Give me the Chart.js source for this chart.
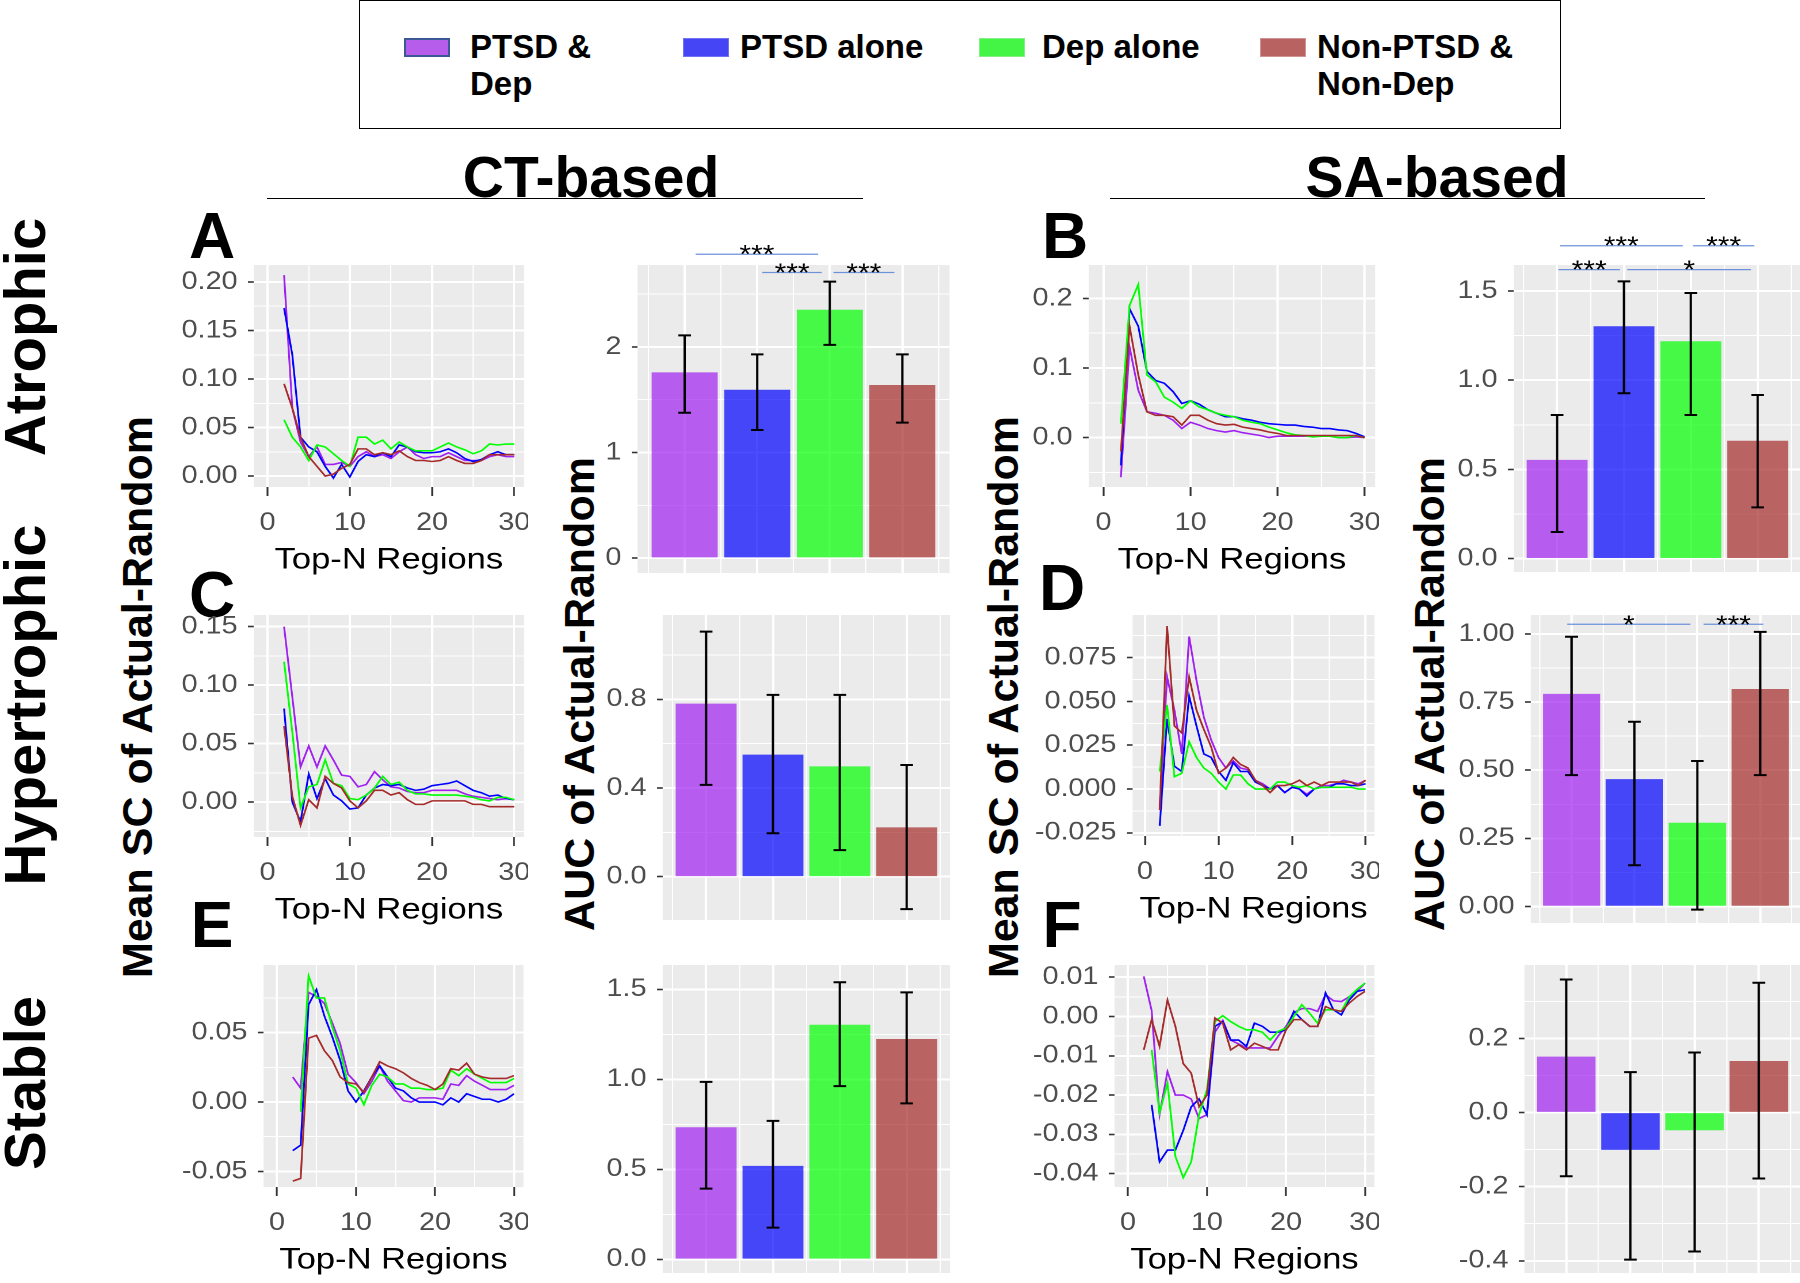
<!DOCTYPE html>
<html lang="en">
<head>
<meta charset="UTF-8">
<title>Mean SC / AUC of Actual-Random</title>
<script src="https://cdn.jsdelivr.net/npm/chart.js"></script>
<style>
  body { margin: 0; background: #ffffff; }
  #page {
    position: relative; width: 1800px; height: 1283px; overflow: hidden; background: #fff;
    font-family: 'Liberation Sans', Arial, sans-serif; color: #000;
  }
  .panel { position: absolute; transform-origin: 0 0; }
  .panel canvas { display: block; }
  .lbl { position: absolute; white-space: nowrap; font-weight: bold; line-height: 1; transform: translate(-50%, -50%); }
  .rot { transform: translate(-50%, -50%) rotate(-90deg); }
  .rule { position: absolute; height: 0; border-top: 1.5px solid #000; }
  #legend { position: absolute; left: 359px; top: 0; width: 1202px; height: 129px; box-sizing: border-box; border: 1.5px solid #000; }
  .key { position: absolute; top: 38px; width: 46px; height: 19px; box-sizing: border-box; }
  .keytxt { position: absolute; top: 28px; font-weight: bold; font-size: 33px; line-height: 37px; white-space: nowrap; }
</style>
</head>
<body>
<div id="page">
  <div id="legend"></div>
  <div class="key" style="left:404px;background:#B65DEC;border:2px solid #3A5894"></div>
  <div class="keytxt" style="left:470px">PTSD &amp;<br>Dep</div>
  <div class="key" style="left:683px;background:#4545F6;border:1px solid #7373F2"></div>
  <div class="keytxt" style="left:740px">PTSD alone</div>
  <div class="key" style="left:979px;background:#45F545;border:1px solid #86EE86"></div>
  <div class="keytxt" style="left:1042px">Dep alone</div>
  <div class="key" style="left:1260px;background:#B86262;border:1px solid #D09494"></div>
  <div class="keytxt" style="left:1317px">Non-PTSD &amp;<br>Non-Dep</div>

  <div class="lbl" style="left:591px;top:177px;font-size:57px">CT-based</div>
  <div class="rule" style="left:267px;top:198px;width:596px"></div>
  <div class="lbl" style="left:1437px;top:177px;font-size:57px">SA-based</div>
  <div class="rule" style="left:1110px;top:198px;width:595px"></div>

  <div class="lbl" style="left:212px;top:236px;font-size:64px">A</div>
  <div class="lbl" style="left:1065px;top:236px;font-size:64px">B</div>
  <div class="lbl" style="left:212px;top:595px;font-size:64px">C</div>
  <div class="lbl" style="left:1062px;top:588px;font-size:64px">D</div>
  <div class="lbl" style="left:212px;top:925px;font-size:64px">E</div>
  <div class="lbl" style="left:1062px;top:925px;font-size:64px">F</div>

  <div class="lbl rot" style="left:25px;top:337px;font-size:58px">Atrophic</div>
  <div class="lbl rot" style="left:25px;top:705px;font-size:58px">Hypertrophic</div>
  <div class="lbl rot" style="left:25px;top:1083px;font-size:58px">Stable</div>

  <div class="lbl rot" style="left:137px;top:697px;font-size:43px">Mean SC of Actual-Random</div>
  <div class="lbl rot" style="left:579px;top:694px;font-size:43px">AUC of Actual-Random</div>
  <div class="lbl rot" style="left:1003px;top:697px;font-size:43px">Mean SC of Actual-Random</div>
  <div class="lbl rot" style="left:1429px;top:694px;font-size:43px">AUC of Actual-Random</div>
</div>
<script>
  const FONT = "'Liberation Sans', Arial, sans-serif";
  // the sub-plots of the source figure are stretched sideways by about this much
  const SX = 1.15;
  const Y_AXIS_W = 90;

  const groups = ['PTSD & Dep', 'PTSD alone', 'Dep alone', 'Non-PTSD & Non-Dep'];
  const lineColors = ['#A020F0', '#0000FF', '#00FF00', '#A52A2A'];
  const barColors = ['rgba(160,32,240,0.7)', 'rgba(0,0,255,0.7)', 'rgba(0,255,0,0.7)', 'rgba(165,42,42,0.7)'];

  const topN = [2, 3, 4, 5, 6, 7, 8, 9, 10, 11, 12, 13, 14, 15, 16, 17, 18, 19, 20, 21, 22, 23, 24, 25, 26, 27, 28, 29, 30];

  // mean SC, one array per group (PD = PTSD & Dep, P = PTSD alone, D = Dep alone, N = neither)
  // A: CT atrophic
  const aPD = [0.207, 0.070, 0.035, 0.020, 0.030, 0.012, 0.012, 0.014, 0.010, 0.020, 0.025, 0.020, 0.022, 0.018, 0.025, 0.030, 0.022, 0.018, 0.020, 0.020, 0.024, 0.020, 0.016, 0.016, 0.016, 0.020, 0.022, 0.020, 0.020];
  const aP = [0.173, 0.125, 0.040, 0.030, 0.025, 0.010, -0.002, 0.012, -0.001, 0.015, 0.022, 0.020, 0.024, 0.020, 0.032, 0.030, 0.025, 0.024, 0.024, 0.025, 0.028, 0.024, 0.018, 0.015, 0.017, 0.022, 0.025, 0.022, 0.022];
  const aD = [0.058, 0.040, 0.030, 0.016, 0.032, 0.030, 0.023, 0.016, 0.010, 0.040, 0.040, 0.033, 0.037, 0.028, 0.035, 0.030, 0.026, 0.026, 0.026, 0.030, 0.034, 0.030, 0.027, 0.023, 0.026, 0.033, 0.032, 0.033, 0.033];
  const aN = [0.095, 0.070, 0.040, 0.020, 0.010, 0.000, 0.002, 0.008, 0.012, 0.028, 0.028, 0.022, 0.024, 0.022, 0.026, 0.020, 0.016, 0.016, 0.015, 0.016, 0.020, 0.016, 0.013, 0.013, 0.016, 0.022, 0.022, 0.022, 0.022];
  // B: SA atrophic
  const bPD = [-0.057, 0.130, 0.068, 0.037, 0.035, 0.032, 0.025, 0.013, 0.022, 0.018, 0.013, 0.010, 0.008, 0.010, 0.007, 0.005, 0.003, 0.000, 0.002, 0.002, 0.002, 0.002, 0.002, 0.002, 0.002, 0.000, 0.000, 0.001, 0.000];
  const bP = [-0.040, 0.185, 0.160, 0.095, 0.082, 0.078, 0.066, 0.049, 0.053, 0.048, 0.040, 0.035, 0.030, 0.030, 0.027, 0.025, 0.022, 0.020, 0.019, 0.018, 0.018, 0.016, 0.015, 0.013, 0.013, 0.011, 0.010, 0.006, 0.001];
  const bD = [0.020, 0.190, 0.220, 0.090, 0.080, 0.058, 0.051, 0.042, 0.053, 0.044, 0.040, 0.035, 0.032, 0.030, 0.025, 0.022, 0.020, 0.015, 0.011, 0.007, 0.004, 0.003, 0.001, 0.002, 0.002, 0.000, 0.000, 0.003, 0.000];
  const bN = [-0.020, 0.160, 0.090, 0.037, 0.032, 0.032, 0.030, 0.018, 0.032, 0.032, 0.025, 0.020, 0.018, 0.019, 0.015, 0.013, 0.011, 0.008, 0.006, 0.003, 0.003, 0.003, 0.003, 0.003, 0.003, 0.003, 0.003, 0.003, 0.000];
  // C: CT hypertrophic
  const cPD = [0.150, 0.090, 0.030, 0.048, 0.030, 0.048, 0.036, 0.023, 0.022, 0.013, 0.015, 0.026, 0.019, 0.013, 0.012, 0.009, 0.008, 0.008, 0.010, 0.010, 0.010, 0.010, 0.007, 0.005, 0.004, 0.003, 0.002, 0.003, 0.002];
  const cP = [0.080, 0.000, -0.017, 0.024, 0.003, 0.020, 0.006, 0.001, -0.006, -0.005, 0.006, 0.012, 0.015, 0.014, 0.015, 0.012, 0.010, 0.011, 0.014, 0.015, 0.016, 0.018, 0.014, 0.010, 0.008, 0.005, 0.006, 0.003, 0.002];
  const cD = [0.120, 0.060, -0.005, 0.013, 0.015, 0.036, 0.016, 0.014, 0.003, 0.002, 0.006, 0.012, 0.022, 0.015, 0.017, 0.010, 0.007, 0.007, 0.006, 0.006, 0.006, 0.006, 0.005, 0.004, 0.002, 0.001, 0.004, 0.004, 0.002];
  const cN = [0.065, 0.005, -0.020, 0.002, -0.005, 0.022, 0.016, 0.012, 0.001, -0.005, 0.001, 0.010, 0.010, 0.006, 0.008, 0.002, -0.002, -0.002, 0.001, 0.001, 0.001, 0.001, 0.001, -0.002, -0.002, -0.004, -0.004, -0.004, -0.004];
  // D: SA hypertrophic
  const dPD = [-0.010, 0.064, 0.045, 0.020, 0.087, 0.062, 0.041, 0.028, 0.018, 0.012, 0.016, 0.012, 0.011, 0.005, 0.003, 0.000, 0.002, -0.002, 0.001, 0.000, -0.003, 0.000, 0.002, 0.002, 0.003, 0.005, 0.004, 0.003, 0.005];
  const dP = [-0.021, 0.040, 0.013, 0.010, 0.053, 0.036, 0.020, 0.018, 0.010, 0.005, 0.015, 0.010, 0.010, 0.004, 0.002, 0.000, 0.002, -0.002, 0.001, 0.000, -0.004, 0.000, 0.001, 0.001, 0.003, 0.003, 0.002, 0.002, 0.003];
  const dD = [0.010, 0.048, 0.007, 0.009, 0.027, 0.018, 0.012, 0.009, 0.004, 0.000, 0.008, 0.008, 0.003, 0.000, 0.000, 0.000, 0.004, 0.004, 0.002, 0.001, 0.002, 0.000, 0.001, 0.001, 0.001, 0.001, 0.001, 0.000, 0.000];
  const dN = [-0.012, 0.093, 0.036, 0.032, 0.064, 0.045, 0.034, 0.024, 0.009, 0.012, 0.018, 0.014, 0.012, 0.005, 0.002, -0.002, 0.002, 0.002, 0.003, 0.005, 0.002, 0.004, 0.002, 0.004, 0.004, 0.004, 0.004, 0.002, 0.005];
  // E: CT stable
  const ePD = [0.018, 0.010, 0.079, 0.076, 0.071, 0.057, 0.042, 0.020, 0.014, 0.006, 0.015, 0.026, 0.015, 0.008, 0.001, 0.000, 0.003, 0.003, 0.003, 0.002, 0.013, 0.012, 0.019, 0.015, 0.012, 0.009, 0.009, 0.009, 0.012];
  const eP = [-0.035, -0.031, 0.070, 0.081, 0.062, 0.047, 0.030, 0.008, 0.000, 0.008, 0.018, 0.026, 0.018, 0.010, 0.008, 0.003, 0.000, 0.000, 0.000, -0.002, 0.003, 0.000, 0.006, 0.004, 0.002, 0.002, 0.000, 0.002, 0.006];
  const eD = [null, -0.007, 0.091, 0.075, 0.075, 0.054, 0.037, 0.013, 0.010, -0.002, 0.012, 0.020, 0.018, 0.013, 0.013, 0.010, 0.010, 0.009, 0.009, 0.010, 0.023, 0.019, 0.024, 0.020, 0.017, 0.014, 0.014, 0.014, 0.017];
  const eN = [-0.057, -0.055, 0.046, 0.048, 0.037, 0.030, 0.018, 0.014, 0.013, 0.007, 0.018, 0.029, 0.026, 0.024, 0.021, 0.017, 0.014, 0.012, 0.009, 0.013, 0.024, 0.023, 0.028, 0.020, 0.018, 0.017, 0.017, 0.017, 0.019];
  // F: SA stable
  const fPD = [0.0102, 0.0015, -0.025, -0.014, -0.020, -0.020, -0.021, -0.026, -0.025, -0.004, -0.001, -0.006, -0.007, -0.008, -0.008, -0.008, -0.008, -0.005, -0.0025, 0.001, 0.002, 0.002, 0.0013, 0.0055, 0.004, 0.0038, 0.005, 0.0064, 0.0085];
  const fP = [null, -0.0225, -0.037, -0.034, -0.034, -0.029, -0.023, -0.021, -0.025, -0.0025, -0.0013, -0.006, -0.006, -0.0076, -0.0017, -0.0025, -0.004, -0.004, -0.0034, 0.0013, -0.0008, -0.0025, -0.0025, 0.006, 0.0017, 0.0004, 0.0042, 0.0064, 0.0068];
  const fD = [null, -0.0085, -0.0245, -0.017, -0.0356, -0.041, -0.037, -0.025, -0.0186, -0.0013, 0.0002, -0.0013, -0.0025, -0.0034, -0.0034, -0.004, -0.006, -0.0038, -0.003, 0.0, 0.003, 0.0008, -0.0017, 0.0017, 0.0017, 0.0013, 0.005, 0.0069, 0.0085];
  const fN = [-0.0085, -0.0008, -0.0076, 0.0042, -0.0025, -0.012, -0.0144, -0.023, -0.020, -0.0004, -0.0017, -0.0085, -0.0072, -0.0085, -0.0068, -0.0076, -0.0085, -0.0085, -0.0034, -0.0008, -0.0008, -0.0025, -0.0025, 0.0025, 0.0017, 0.0013, 0.0034, 0.0051, 0.0064];

  // AUC bars: value, error bar low, error bar high (same group order)
  const aucA = [1.756, 1.592, 2.350, 1.637];
  const aucALow = [1.377, 1.213, 2.020, 1.283];
  const aucAHigh = [2.110, 1.930, 2.620, 1.930];
  const aucB = [0.552, 1.301, 1.217, 0.659];
  const aucBLow = [0.149, 0.927, 0.805, 0.287];
  const aucBHigh = [0.805, 1.554, 1.489, 0.917];
  const aucC = [0.779, 0.549, 0.496, 0.221];
  const aucCLow = [0.414, 0.196, 0.120, -0.146];
  const aucCHigh = [1.105, 0.820, 0.820, 0.504];
  const aucD = [0.779, 0.466, 0.306, 0.797];
  const aucDLow = [0.482, 0.151, -0.012, 0.482];
  const aucDHigh = [0.990, 0.678, 0.534, 1.008];
  const aucE = [0.732, 0.517, 1.301, 1.222];
  const aucELow = [0.393, 0.176, 0.962, 0.866];
  const aucEHigh = [0.986, 0.769, 1.539, 1.483];
  const aucF = [0.150, -0.100, -0.047, 0.138];
  const aucFLow = [-0.172, -0.397, -0.375, -0.178];
  const aucFHigh = [0.359, 0.109, 0.162, 0.350];

  // significance marks: [from group, to group, height in data units, label]
  const sigA = [[0.15, 1.84, 2.879, '***'], [1.07, 1.89, 2.706, '***'], [2.05, 2.89, 2.706, '***']];
  const sigB = [[0.04, 1.88, 1.754, '***'], [2.03, 2.95, 1.754, '***'], [0.02, 0.94, 1.620, '***'], [1.05, 2.90, 1.620, '*']];
  const sigD = [[-0.07, 1.89, 1.036, '*'], [2.10, 3.05, 1.036, '***']];

  // tick labels
  const xTicksLine = [0, 10, 20, 30];
  const yTicksA = [0, 0.05, 0.10, 0.15, 0.20];
  const yTicksB = [0, 0.1, 0.2];
  const yTicksC = [0, 0.05, 0.10, 0.15];
  const yTicksD = [-0.025, 0, 0.025, 0.05, 0.075];
  const yTicksE = [-0.05, 0, 0.05];
  const yTicksF = [-0.04, -0.03, -0.02, -0.01, 0, 0.01];
  const aucTicksA = [0, 1, 2];
  const aucTicksB = [0, 0.5, 1.0, 1.5];
  const aucTicksC = [0, 0.4, 0.8];
  const aucTicksD = [0, 0.25, 0.50, 0.75, 1.00];
  const aucTicksE = [0, 0.5, 1.0, 1.5];
  const aucTicksF = [-0.4, -0.2, 0, 0.2];
  const barSlots = [0, 1, 2, 3];

  // layout: panel rectangles [left, top, right, bottom] on the page
  const lineLayout = [
    { rect: [253, 265, 523, 487], y: [-0.0113, 0.2175], ticks: yTicksA, dec: 2, series: [aPD, aP, aD, aN] },
    { rect: [1088, 265, 1374, 487], y: [-0.071, 0.248], ticks: yTicksB, dec: 1, series: [bPD, bP, bD, bN] },
    { rect: [253, 615, 523, 837], y: [-0.0299, 0.160], ticks: yTicksC, dec: 2, series: [cPD, cP, cD, cN] },
    { rect: [1132, 615, 1374, 836], y: [-0.0268, 0.0993], ticks: yTicksD, dec: 3, series: [dPD, dP, dD, dN] },
    { rect: [263, 965, 523, 1187], y: [-0.0612, 0.0987], ticks: yTicksE, dec: 2, series: [ePD, eP, eD, eN] },
    { rect: [1114, 965, 1374, 1187], y: [-0.0434, 0.0131], ticks: yTicksF, dec: 2, series: [fPD, fP, fD, fN] }
  ];
  const barLayout = [
    { rect: [637, 265, 949, 573], y: [-0.142, 2.777], ticks: aucTicksA, dec: 0, vals: aucA, low: aucALow, high: aucAHigh, sig: sigA },
    { rect: [1513, 265, 1800, 572], y: [-0.075, 1.646], ticks: aucTicksB, dec: 1, vals: aucB, low: aucBLow, high: aucBHigh, sig: sigB },
    { rect: [662, 615, 949, 920], y: [-0.195, 1.180], ticks: aucTicksC, dec: 1, vals: aucC, low: aucCLow, high: aucCHigh, sig: [] },
    { rect: [1530, 615, 1800, 923], y: [-0.061, 1.070], ticks: aucTicksD, dec: 2, vals: aucD, low: aucDLow, high: aucDHigh, sig: sigD },
    { rect: [662, 965, 949, 1273], y: [-0.076, 1.635], ticks: aucTicksE, dec: 1, vals: aucE, low: aucELow, high: aucEHigh, sig: [] },
    { rect: [1524, 965, 1800, 1273], y: [-0.433, 0.398], ticks: aucTicksF, dec: 1, vals: aucF, low: aucFLow, high: aucFHigh, sig: [] }
  ];
  const LINE_X = [-1.7, 31.2];
  const BAR_X = [-0.65, 3.65];

  Chart.defaults.font.family = FONT;

  const panelBg = {
    id: 'panelBg',
    beforeDraw(chart) {
      const { ctx, chartArea: a } = chart;
      ctx.save();
      ctx.fillStyle = '#EBEBEB';
      ctx.fillRect(a.left, a.top, a.width, a.height);
      ctx.restore();
    }
  };

  const errorBars = {
    id: 'errorBars',
    afterDatasetsDraw(chart) {
      const ds = chart.data.datasets[0];
      const { ctx, scales: { x, y } } = chart;
      ctx.save();
      ctx.strokeStyle = '#000';
      ctx.lineWidth = 2;
      ds.errLow.forEach((lo, i) => {
        const px = x.getPixelForValue(i);
        const y1 = y.getPixelForValue(lo);
        const y2 = y.getPixelForValue(ds.errHigh[i]);
        ctx.beginPath();
        ctx.moveTo(px, y1); ctx.lineTo(px, y2);
        ctx.moveTo(px - 5.5, y1); ctx.lineTo(px + 5.5, y1);
        ctx.moveTo(px - 5.5, y2); ctx.lineTo(px + 5.5, y2);
        ctx.stroke();
      });
      ctx.restore();
    }
  };

  const sigMarks = {
    id: 'sigMarks',
    afterDraw(chart) {
      const ds = chart.data.datasets[0];
      const { ctx, scales: { x, y } } = chart;
      ctx.save();
      ds.sig.forEach(([g1, g2, h, label]) => {
        const x1 = x.getPixelForValue(g1), x2 = x.getPixelForValue(g2), py = y.getPixelForValue(h);
        ctx.strokeStyle = '#6D92DA';
        ctx.lineWidth = 1.3;
        ctx.beginPath(); ctx.moveTo(x1, py); ctx.lineTo(x2, py); ctx.stroke();
        ctx.fillStyle = '#000';
        ctx.font = '26px ' + FONT;
        ctx.textAlign = 'center';
        ctx.textBaseline = 'alphabetic';
        ctx.fillText(label, (x1 + x2) / 2, py + 9);
      });
      ctx.restore();
    }
  };

  function halfSteps(majors, range) {
    const step = majors[1] - majors[0];
    const out = [majors[0] - step / 2].concat(majors.map(m => m + step / 2));
    return out.filter(v => v > range[0] && v < range[1]);
  }
  function isMajor(c, majors) {
    return !!c.tick && majors.some(m => Math.abs(m - c.tick.value) < 1e-9);
  }
  function gridTicks(majors, range) {
    return majors.filter(v => v >= range[0] && v <= range[1]).concat(halfSteps(majors, range)).sort((p, q) => p - q);
  }

  function yScale(range, majors, dec) {
    return {
      type: 'linear', min: range[0], max: range[1], bounds: 'data',
      afterBuildTicks: s => { s.ticks = gridTicks(majors, range).map(v => ({ value: v })); },
      afterFit: s => { s.width = Y_AXIS_W; s.paddingTop = 0; s.paddingBottom = 0; },
      border: { display: false },
      grid: {
        color: '#FFFFFF',
        lineWidth: c => isMajor(c, majors) ? 2 : 1,
        tickColor: c => isMajor(c, majors) ? '#333333' : 'rgba(0,0,0,0)',
        tickWidth: 1.6,
        tickLength: 5
      },
      ticks: {
        autoSkip: false, padding: 9, color: '#4D4D4D',
        font: { family: FONT, size: 25 },
        callback: v => majors.some(m => Math.abs(m - v) < 1e-9) ? v.toFixed(dec) : ''
      }
    };
  }

  function place(rect, padTop, bottomH, padRight) {
    const [l, t, r, b] = rect;
    const box = document.createElement('div');
    box.className = 'panel';
    box.style.left = (l - Y_AXIS_W * SX) + 'px';
    box.style.top = (t - padTop) + 'px';
    box.style.width = (Y_AXIS_W + (r - l) / SX + padRight) + 'px';
    box.style.height = (padTop + (b - t) + bottomH) + 'px';
    box.style.transform = 'scaleX(' + SX + ')';
    const cv = document.createElement('canvas');
    box.appendChild(cv);
    document.getElementById('page').appendChild(box);
    return cv;
  }

  const baseOptions = (padTop, padRight) => ({
    responsive: true, maintainAspectRatio: false, animation: false, devicePixelRatio: 2, events: [],
    layout: { padding: { top: padTop, right: padRight, left: 0, bottom: 0 } },
    plugins: { legend: { display: false }, tooltip: { enabled: false } }
  });

  function makeLine(p) {
    const cv = place(p.rect, 10, 91, 4);
    const opts = baseOptions(10, 4);
    opts.scales = {
      x: {
        type: 'linear', min: LINE_X[0], max: LINE_X[1], bounds: 'data',
        afterBuildTicks: s => { s.ticks = gridTicks(xTicksLine, LINE_X).map(v => ({ value: v })); },
        afterFit: s => { s.height = 91; s.paddingLeft = 0; s.paddingRight = 0; },
        border: { display: false },
        grid: {
          color: '#FFFFFF',
          lineWidth: c => isMajor(c, xTicksLine) ? 2 : 1,
          tickColor: c => isMajor(c, xTicksLine) ? '#333333' : 'rgba(0,0,0,0)',
          tickWidth: 1.6,
          tickLength: 9
        },
        ticks: {
          autoSkip: false, maxRotation: 0, minRotation: 0, padding: 12, color: '#4D4D4D',
          font: { family: FONT, size: 25 },
          callback: v => xTicksLine.includes(v) ? String(v) : ''
        },
        title: { display: true, text: 'Top-N Regions', color: '#000', font: { family: FONT, size: 30 }, padding: 0 }
      },
      y: yScale(p.y, p.ticks, p.dec)
    };
    new Chart(cv, {
      type: 'line',
      data: {
        datasets: p.series.map((s, k) => ({
          label: groups[k],
          data: topN.map((n, i) => ({ x: n, y: s[i] })),
          borderColor: lineColors[k],
          borderWidth: 1.6,
          pointRadius: 0,
          tension: 0,
          order: 4 - k
        }))
      },
      options: opts,
      plugins: [panelBg]
    });
  }

  function makeBar(p) {
    const padR = p.rect[2] >= 1800 ? 0 : 4;
    const cv = place(p.rect, 60, 6, padR);
    const unit = (p.rect[2] - p.rect[0]) / SX / (BAR_X[1] - BAR_X[0]);
    const opts = baseOptions(60, padR);
    opts.scales = {
      x: {
        type: 'linear', min: BAR_X[0], max: BAR_X[1], bounds: 'data', offset: false,
        afterBuildTicks: s => { s.ticks = gridTicks(barSlots, BAR_X).map(v => ({ value: v })); },
        afterFit: s => { s.height = 6; s.paddingLeft = 0; s.paddingRight = 0; },
        border: { display: false },
        grid: { offset: false, color: '#FFFFFF', lineWidth: c => isMajor(c, barSlots) ? 2 : 1, drawTicks: false },
        ticks: { display: false }
      },
      y: yScale(p.y, p.ticks, p.dec)
    };
    new Chart(cv, {
      type: 'bar',
      data: {
        datasets: [{
          label: 'AUC',
          data: p.vals.map((v, i) => ({ x: barSlots[i], y: v })),
          backgroundColor: barColors,
          borderWidth: 0,
          barThickness: unit * 0.9,
          errLow: p.low,
          errHigh: p.high,
          sig: p.sig
        }]
      },
      options: opts,
      plugins: [panelBg, errorBars, sigMarks]
    });
  }

  lineLayout.forEach(makeLine);
  barLayout.forEach(makeBar);
</script>
</body>
</html>
